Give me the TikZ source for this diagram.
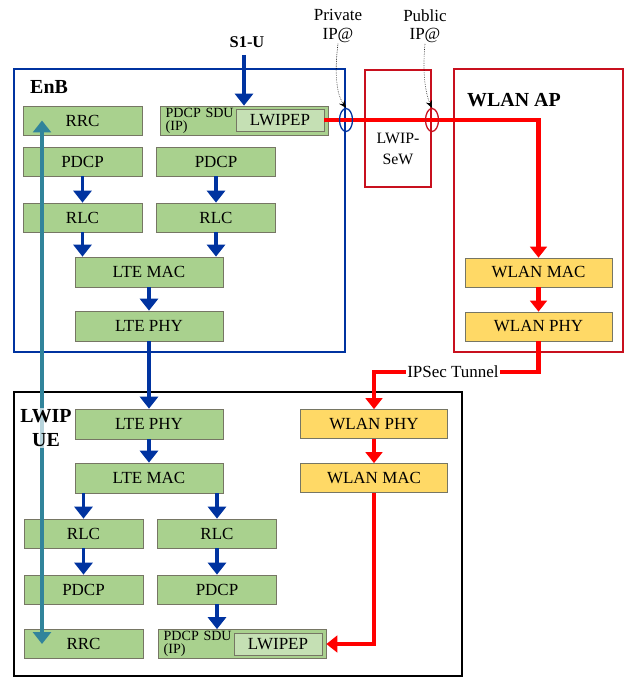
\documentclass[tikz,border=0pt]{standalone}
\usepackage{fontspec}
\setmainfont{Liberation Serif}
\usetikzlibrary{arrows.meta,shapes.geometric}
\definecolor{lg}{RGB}{169,209,142}
\definecolor{lgl}{RGB}{197,224,180}
\definecolor{yl}{RGB}{255,217,102}
\definecolor{bd}{RGB}{118,118,100}
\definecolor{db}{RGB}{0,51,160}
\definecolor{rd}{RGB}{255,0,0}
\definecolor{dr}{RGB}{200,16,30}
\definecolor{tl}{RGB}{49,132,155}
\tikzset{
  blk/.style={draw=bd,line width=0.6pt,fill=lg,minimum width=3.57cm,minimum height=0.87cm,inner sep=0pt,font=\fontsize{14.5}{16}\selectfont},
  wide/.style={blk,minimum width=4.44cm,minimum height=0.9cm},
  wlan/.style={blk,fill=yl,minimum width=4.41cm},
  lwip/.style={blk,fill=lgl,minimum width=2.64cm,minimum height=0.66cm},
  sdu/.style={blk,minimum width=5.04cm,align=left,text width=4.7cm,font=\fontsize{12}{11}\selectfont},
  data/.style={draw=db,line width=3.4pt,-{Triangle[length=3.6mm,width=5.4mm]}},
  wifi/.style={draw=rd,line width=3.6pt,-{Triangle[length=3.3mm,width=5mm]}},
  ctrl/.style={draw=tl,line width=3.4pt,{Triangle[length=3.6mm,width=5.4mm]}-{Triangle[length=3.6mm,width=5.4mm]}},
  note/.style={densely dotted,line width=0.5pt,-{Stealth[length=2.2mm,width=2mm]}},
  lbl/.style={inner sep=1pt,font=\fontsize{14.5}{15.5}\selectfont},
  title/.style={inner sep=0pt,font=\fontsize{17}{20.5}\selectfont\bfseries},
  ring/.style={ellipse,draw,line width=1.1pt,minimum width=0.39cm,minimum height=0.69cm,inner sep=0pt}
}
\begin{document}
\begin{tikzpicture}[x=0.03cm,y=-0.03cm]
  \useasboundingbox (0,0) rectangle (627,680);

  % areas
  \draw[db,line width=1.2pt] (14,69) rectangle (345,352);
  \draw[dr,line width=1.2pt] (365,70) rectangle (431,187);
  \draw[dr,line width=1.2pt] (454,69) rectangle (623,352);
  \draw[line width=1.2pt] (14,392) rectangle (462,676);

  % eNB stack
  \node[blk] (rrcA) at (82.5,120.5) {RRC};
  \node[sdu] (sduA) at (244,120.5) {PDCP SDU\\(IP)};
  \node[lwip] (lwipA) at (280,120) {LWIPEP};
  \node[blk] (pdcpA1) at (82.5,161.5) {PDCP};
  \node[blk] (pdcpA2) at (216,161.5) {PDCP};
  \node[blk] (rlcA1) at (82.5,217.5) {RLC};
  \node[blk] (rlcA2) at (216,217.5) {RLC};
  \node[wide] (macA) at (149,272) {LTE MAC};
  \node[wide] (phyA) at (149,326) {LTE PHY};

  % WLAN AP stack
  \node[wlan] (wmacA) at (538.5,272.5) {WLAN MAC};
  \node[wlan] (wphyA) at (538.5,326.5) {WLAN PHY};

  % UE stack
  \node[wide] (phyB) at (149,424) {LTE PHY};
  \node[wide] (macB) at (149,478) {LTE MAC};
  \node[blk] (rlcB1) at (83.5,533.5) {RLC};
  \node[blk] (rlcB2) at (217,533.5) {RLC};
  \node[blk] (pdcpB1) at (83.5,589.5) {PDCP};
  \node[blk] (pdcpB2) at (217,589.5) {PDCP};
  \node[blk] (rrcB) at (83.5,644) {RRC};
  \node[sdu] (sduB) at (242,644) {PDCP SDU\\(IP)};
  \node[lwip] (lwipB) at (278,644.5) {LWIPEP};
  \node[wlan] (wphyB) at (374,424) {WLAN PHY};
  \node[wlan] (wmacB) at (374,478) {WLAN MAC};

  % LTE data path
  \node[lbl,font=\fontsize{14}{15}\selectfont\bfseries] (s1u) at (247,42) {S1-U};
  \draw[data] ([yshift=-5pt]s1u.south -| sduA.north) -- (sduA.north);
  \draw[data] (pdcpA1) -- (rlcA1);
  \draw[data] (pdcpA2) -- (rlcA2);
  \draw[data] (rlcA1.south) -- (rlcA1.south |- macA.north);
  \draw[data] (rlcA2.south) -- (rlcA2.south |- macA.north);
  \draw[data] (macA) -- (phyA);
  \draw[data] (phyA) -- (phyB);
  \draw[data] (phyB) -- (macB);
  \draw[data] (macB.south -| rlcB1) -- (rlcB1.north);
  \draw[data] (macB.south -| rlcB2) -- (rlcB2.north);
  \draw[data] (rlcB1) -- (pdcpB1);
  \draw[data] (rlcB2) -- (pdcpB2);
  \draw[data] (pdcpB2.south) -- (pdcpB2.south |- sduB.north);

  % WLAN data path
  \coordinate (tun) at (456,372);
  \draw[wifi] (lwipA.east) -| (wmacA.north);
  \draw[wifi] (wmacA) -- (wphyA);
  \draw[wifi] (wphyA.south) |- (tun) -| (wphyB.north);
  \node[lbl,fill=white] (tunT) at (453,372) {IPSec Tunnel};
  \draw[wifi] (wphyB) -- (wmacB);
  \draw[wifi] (wmacB.south) |- (sduB.east);

  % RRC link
  \coordinate (ctlx) at (42,0);
  \draw[ctrl] (rrcB.center -| ctlx) -- (rrcA.center -| ctlx);

  % addresses
  \node[ring,draw=db] (ringA) at (346,120) {};
  \node[ring,draw=dr] (ringB) at (432,120) {};
  \node[lbl,align=center] (privT) at (338,26) {Private\\IP@};
  \node[lbl,align=center] (pubT) at (425,26) {Public\\IP@};
  \draw[note] (privT.south) .. controls (334,75) and (337,95) .. (ringA.north);
  \draw[note] (pubT.south) .. controls (422,75) and (426,95) .. (ringB.north);

  % titles
  \node[title,anchor=base west] (enbT) at (30,94) {EnB};
  \node[title,anchor=base west] (apT) at (467,107) {WLAN AP};
  \node[title,align=center,fill=white,fill opacity=0.65,text opacity=1,inner sep=1pt] (ueT) at (46,428) {LWIP\\UE};
  \node[lbl,align=center,font=\fontsize{13.5}{18}\selectfont] (sewT) at (398,149) {LWIP-\\SeW};
\end{tikzpicture}
\end{document}
